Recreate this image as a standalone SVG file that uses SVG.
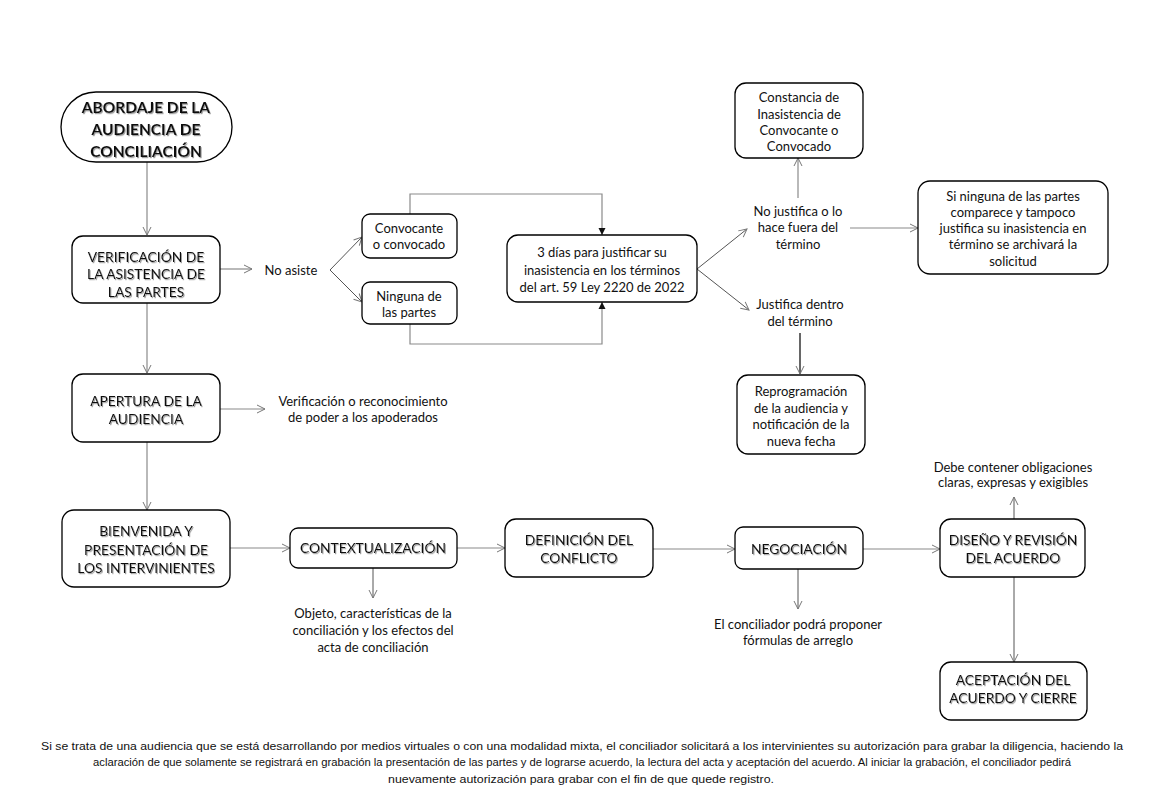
<svg xmlns="http://www.w3.org/2000/svg" width="1166" height="805" viewBox="0 0 1166 805">
<defs>
<style>
.box{fill:#fff;stroke:#000;stroke-width:1.3}
.t{font-family:Lato,"Liberation Sans",sans-serif;font-size:13px;fill:#111;text-anchor:middle}
.h{font-family:Lato,"Liberation Sans",sans-serif;font-size:13.8px;fill:#111;text-anchor:middle;filter:url(#sh)}
.hb{font-weight:bold;font-size:15.5px}
.c{fill:none;stroke:#8a8a8a;stroke-width:1.2}
.cd{fill:none;stroke:#555;stroke-width:1}
.ck{fill:none;stroke:#000;stroke-width:1.2}
.note{font-family:"Liberation Sans",sans-serif;font-size:11.5px;fill:#111;text-anchor:middle}
</style>
<filter id="sh" x="-5%" y="-20%" width="110%" height="150%">
<feDropShadow dx="1" dy="1.2" stdDeviation="0.6" flood-color="#888" flood-opacity="0.8"/>
</filter>
<marker id="a" markerUnits="userSpaceOnUse" markerWidth="10" markerHeight="10" refX="9" refY="5" orient="auto">
<path d="M1,1 L9,5 L1,9" fill="none" stroke="#777" stroke-width="1"/>
</marker>
<marker id="f" markerUnits="userSpaceOnUse" markerWidth="8" markerHeight="8" refX="7" refY="4" orient="auto">
<path d="M0,0.5 L7,4 L0,7.5 Z" fill="#111"/>
</marker>
</defs>
<rect width="1166" height="805" fill="#fff"/>

<g id="connectors">
<line class="c" x1="147" y1="162" x2="147" y2="235" marker-end="url(#a)"/>
<line class="c" x1="220" y1="269" x2="252" y2="269" marker-end="url(#a)"/>
<line class="cd" x1="330" y1="270" x2="362" y2="237" marker-end="url(#a)"/>
<line class="cd" x1="330" y1="270" x2="362" y2="302" marker-end="url(#a)"/>
<polyline class="c" points="410,214 410,194 602,194 602,235" marker-end="url(#f)"/>
<polyline class="c" points="410,324 410,344 602,344 602,302" marker-end="url(#f)"/>
<line class="cd" x1="697" y1="269" x2="747" y2="229" marker-end="url(#a)"/>
<line class="cd" x1="697" y1="269" x2="749" y2="310" marker-end="url(#a)"/>
<line class="c" x1="798" y1="198" x2="798" y2="158" marker-end="url(#a)"/>
<line class="c" x1="850" y1="228" x2="918" y2="228" marker-end="url(#a)"/>
<line class="ck" x1="800" y1="333" x2="800" y2="374" marker-end="url(#a)"/>
<line class="c" x1="147" y1="303" x2="147" y2="373" marker-end="url(#a)"/>
<line class="c" x1="220" y1="409" x2="265" y2="409" marker-end="url(#a)"/>
<line class="c" x1="147" y1="442" x2="147" y2="510" marker-end="url(#a)"/>
<line class="c" x1="230" y1="548" x2="290" y2="548" marker-end="url(#a)"/>
<line class="cd" x1="373" y1="568" x2="373" y2="598" marker-end="url(#a)"/>
<line class="c" x1="457" y1="548" x2="505" y2="548" marker-end="url(#a)"/>
<line class="c" x1="653" y1="549" x2="735" y2="549" marker-end="url(#a)"/>
<line class="cd" x1="798" y1="569" x2="798" y2="609" marker-end="url(#a)"/>
<line class="c" x1="863" y1="549" x2="940" y2="549" marker-end="url(#a)"/>
<line class="cd" x1="1014" y1="519" x2="1014" y2="497" marker-end="url(#a)"/>
<line class="cd" x1="1014" y1="577" x2="1014" y2="662" marker-end="url(#a)"/>
</g>

<g id="abordaje">
<rect class="box" x="61" y="92" width="171" height="70" rx="35"/>
<text class="h hb" x="146" y="113">ABORDAJE DE LA</text>
<text class="h hb" x="146" y="135">AUDIENCIA DE</text>
<text class="h hb" x="146" y="157">CONCILIACIÓN</text>
</g>

<g id="verificacion">
<rect class="box" x="72" y="236" width="148" height="67" rx="11"/>
<text class="h" x="146" y="262">VERIFICACIÓN  DE</text>
<text class="h" x="146" y="279">LA ASISTENCIA DE</text>
<text class="h" x="146" y="297">LAS PARTES</text>
</g>

<g id="no-asiste"><text class="t" x="291" y="275">No asiste</text></g>

<g id="convocante">
<rect class="box" x="362" y="214" width="95" height="44" rx="8"/>
<text class="t" x="409" y="233">Convocante</text>
<text class="t" x="409" y="249">o convocado</text>
</g>

<g id="ninguna">
<rect class="box" x="362" y="282" width="95" height="42" rx="8"/>
<text class="t" x="409" y="301">Ninguna de</text>
<text class="t" x="409" y="317">las partes</text>
</g>

<g id="tres-dias">
<rect class="box" x="507" y="235" width="190" height="67" rx="11"/>
<text class="t" x="602" y="257">3 días para justificar su</text>
<text class="t" x="602" y="275">inasistencia en los términos</text>
<text class="t" x="602" y="292">del art. 59 Ley 2220 de 2022</text>
</g>

<g id="constancia">
<rect class="box" x="735" y="83" width="128" height="75" rx="11"/>
<text class="t" x="799" y="102">Constancia de</text>
<text class="t" x="799" y="119">Inasistencia de</text>
<text class="t" x="799" y="135">Convocante o</text>
<text class="t" x="799" y="151">Convocado</text>
</g>

<g id="no-justifica">
<text class="t" x="798" y="216">No justifica o lo</text>
<text class="t" x="798" y="232">hace fuera del</text>
<text class="t" x="798" y="249">término</text>
</g>

<g id="si-ninguna">
<rect class="box" x="918" y="181" width="190" height="93" rx="12"/>
<text class="t" x="1013" y="201">Si ninguna de las partes</text>
<text class="t" x="1013" y="217">comparece y tampoco</text>
<text class="t" x="1013" y="233">justifica su inasistencia en</text>
<text class="t" x="1013" y="249">término se archivará la</text>
<text class="t" x="1013" y="266">solicitud</text>
</g>

<g id="justifica-dentro">
<text class="t" x="800" y="309">Justifica dentro</text>
<text class="t" x="800" y="326">del término</text>
</g>

<g id="reprogramacion">
<rect class="box" x="737" y="375" width="128" height="79" rx="11"/>
<text class="t" x="801" y="396">Reprogramación</text>
<text class="t" x="801" y="413">de la audiencia y</text>
<text class="t" x="801" y="429">notificación de la</text>
<text class="t" x="801" y="446">nueva fecha</text>
</g>

<g id="apertura">
<rect class="box" x="72" y="374" width="148" height="68" rx="11"/>
<text class="h" x="146" y="406">APERTURA DE LA</text>
<text class="h" x="146" y="424">AUDIENCIA</text>
</g>

<g id="verificacion-poder">
<text class="t" x="363" y="406">Verificación o reconocimiento</text>
<text class="t" x="363" y="422">de poder a los apoderados</text>
</g>

<g id="bienvenida">
<rect class="box" x="62" y="510" width="168" height="77" rx="12"/>
<text class="h" x="146" y="536">BIENVENIDA Y</text>
<text class="h" x="146" y="555">PRESENTACIÓN DE</text>
<text class="h" x="146" y="573">LOS INTERVINIENTES</text>
</g>

<g id="contextualizacion">
<rect class="box" x="290" y="528" width="167" height="40" rx="8"/>
<text class="h" x="373" y="553">CONTEXTUALIZACIÓN</text>
</g>

<g id="objeto">
<text class="t" x="373" y="618">Objeto, características de la</text>
<text class="t" x="373" y="635">conciliación y los efectos del</text>
<text class="t" x="373" y="652">acta de conciliación</text>
</g>

<g id="definicion">
<rect class="box" x="505" y="519" width="148" height="58" rx="11"/>
<text class="h" x="579" y="545">DEFINICIÓN  DEL</text>
<text class="h" x="579" y="563">CONFLICTO</text>
</g>

<g id="negociacion">
<rect class="box" x="735" y="527" width="128" height="42" rx="8"/>
<text class="h" x="799" y="554">NEGOCIACIÓN</text>
</g>

<g id="conciliador-formulas">
<text class="t" x="798" y="629">El conciliador podrá proponer</text>
<text class="t" x="798" y="645">fórmulas de arreglo</text>
</g>

<g id="debe-contener">
<text class="t" x="1013" y="472">Debe contener obligaciones</text>
<text class="t" x="1013" y="487">claras, expresas y exigibles</text>
</g>

<g id="diseno">
<rect class="box" x="940" y="519" width="145" height="58" rx="11"/>
<text class="h" x="1013" y="545">DISEÑO Y REVISIÓN</text>
<text class="h" x="1013" y="563">DEL ACUERDO</text>
</g>

<g id="aceptacion">
<rect class="box" x="940" y="662" width="147" height="58" rx="11"/>
<text class="h" x="1013" y="685">ACEPTACIÓN  DEL</text>
<text class="h" x="1013" y="703">ACUERDO Y CIERRE</text>
</g>

<g id="nota">
<text class="note" x="582" y="750" textLength="1082" lengthAdjust="spacingAndGlyphs">Si se trata de una audiencia que se está desarrollando por medios virtuales o con una modalidad mixta, el conciliador solicitará a los intervinientes su autorización para grabar la diligencia, haciendo la</text>
<text class="note" x="582" y="766" textLength="978" lengthAdjust="spacingAndGlyphs">aclaración de que solamente se registrará en grabación la presentación de las partes y de lograrse acuerdo, la lectura del acta y aceptación del acuerdo.  Al iniciar la grabación, el conciliador pedirá</text>
<text class="note" x="581" y="783" textLength="386" lengthAdjust="spacingAndGlyphs">nuevamente  autorización para grabar con el fin de que quede registro.</text>
</g>
</svg>
